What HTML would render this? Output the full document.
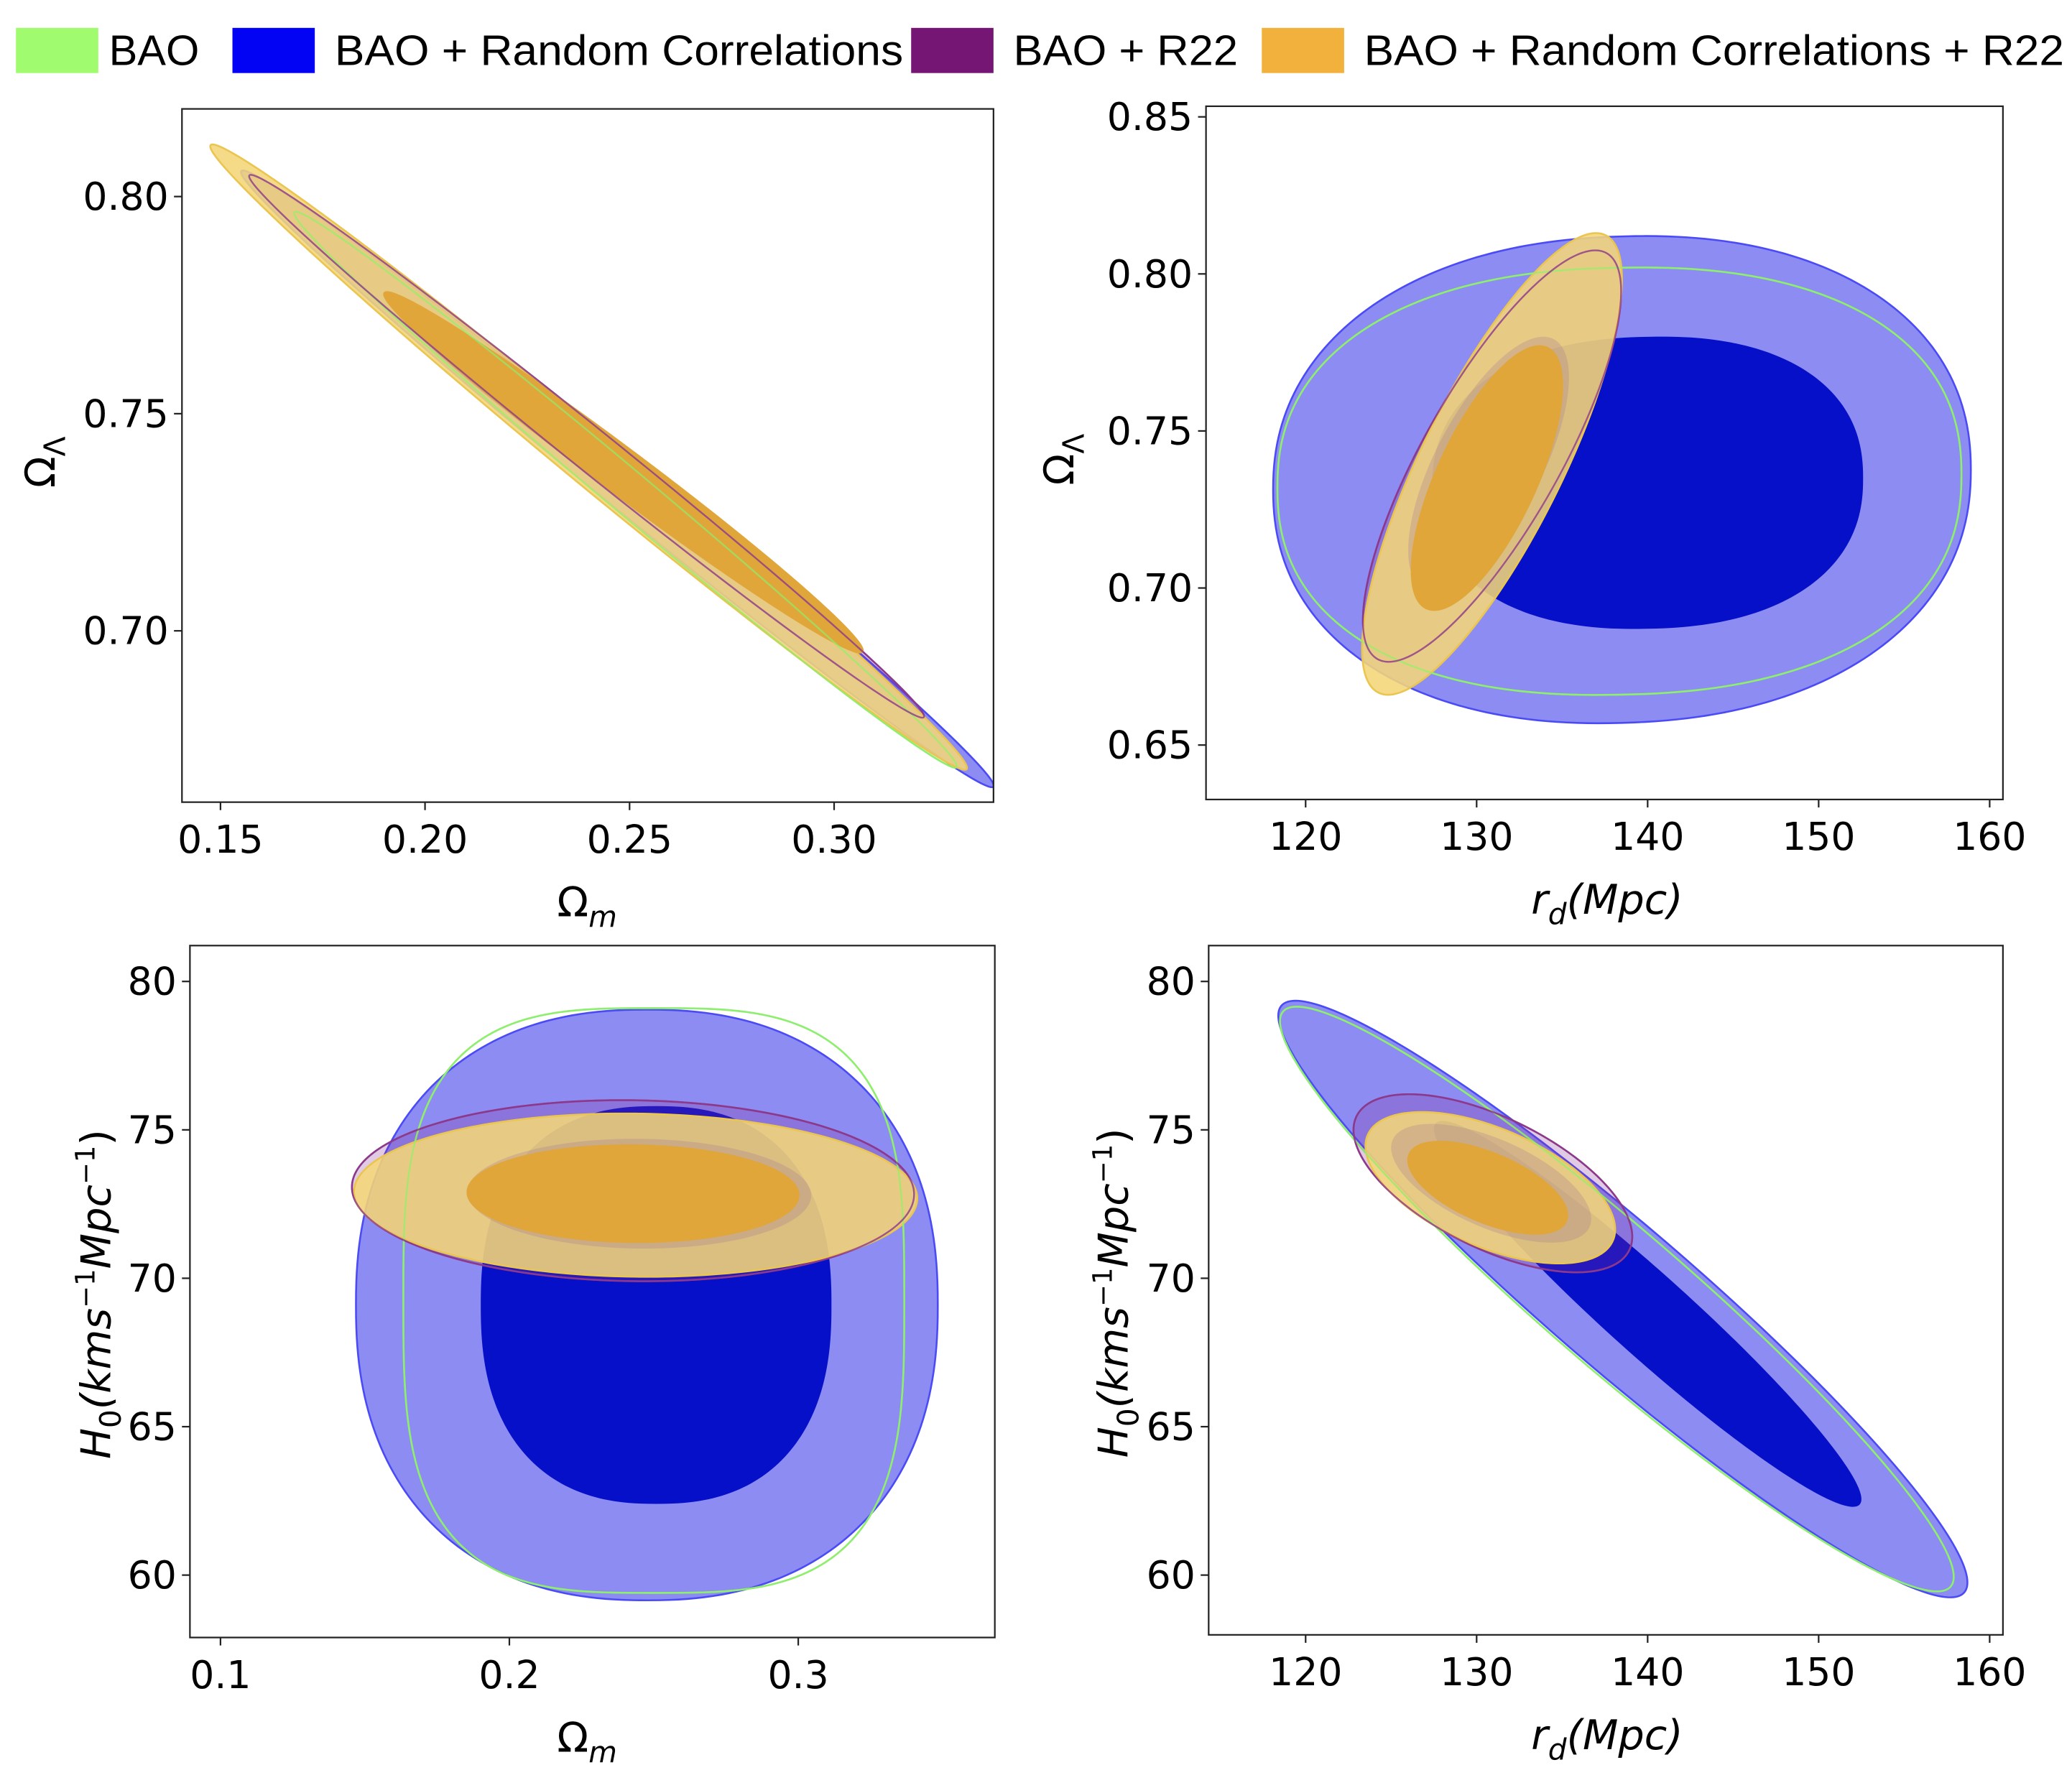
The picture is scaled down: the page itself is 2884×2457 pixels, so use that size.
<!DOCTYPE html>
<html><head><meta charset="utf-8"><style>
html,body{margin:0;padding:0;background:#fff;}
svg{display:block;}
text{font-family:"DejaVu Sans","Liberation Sans",sans-serif;fill:#000;}
.lg{font-family:"Liberation Sans",sans-serif;font-size:32px;}
.tk{font-size:29px;}
.al{font-size:31px;}
</style></head><body>
<svg id="fig" width="2884" height="2457" viewBox="0 0 1560 1329" preserveAspectRatio="none" xmlns="http://www.w3.org/2000/svg">
<g>
<rect x="12" y="21" width="62" height="34" fill="#a0fb6e"/>
<text class="lg" x="82" y="49" textLength="68" lengthAdjust="spacingAndGlyphs">BAO</text>
<rect x="175" y="21" width="62" height="34" fill="#0202f5"/>
<text class="lg" x="252" y="49" textLength="428" lengthAdjust="spacingAndGlyphs">BAO + Random Correlations</text>
<rect x="686" y="21" width="62" height="34" fill="#751674"/>
<text class="lg" x="763" y="49" textLength="169" lengthAdjust="spacingAndGlyphs">BAO + R22</text>
<rect x="950" y="21" width="62" height="34" fill="#f2b13c"/>
<text class="lg" x="1027" y="49" textLength="527" lengthAdjust="spacingAndGlyphs">BAO + Random Correlations + R22</text>
</g>
</svg>
<script>
// layer order: blueOuter, blueInner, greenOuter, purpleOuter, yellowOuter, purpleInner, orangeInner
const layerNames = ['bao-rc-outer','bao-rc-inner','bao-outer','bao-r22-outer','bao-rc-r22-outer','bao-r22-inner','bao-rc-r22-inner'];
// Panel 1: Omega_m vs Omega_Lambda
const p1Cx = [0.247, 0.249, 0.249, 0.2395, 0.240, 0.246, 0.2485];
const p1Cy = [0.735, 0.7365, 0.7325, 0.7425, 0.740, 0.7375, 0.7365];
const p1Hx = [0.092, 0.055, 0.081, 0.0825, 0.0925, 0.052, 0.0585];
const p1Hy = [0.071, 0.039, 0.064, 0.0625, 0.072, 0.036, 0.0415];
const p1Rho = [-0.995, -0.988, -0.995, -0.995, -0.994, -0.988, -0.988];
const p1Q = [2, 2, 2, 2, 2, 2, 2];
const p1XTicks = [0.15, 0.20, 0.25, 0.30];
const p1XTickLabels = ['0.15','0.20','0.25','0.30'];
const p1YTicks = [0.70, 0.75, 0.80];
const p1YTickLabels = ['0.70','0.75','0.80'];
// Panel 2: r_d vs Omega_Lambda
const p2Cx = [138.5, 140.0, 138.35, 130.9, 130.9, 130.7, 130.6];
const p2Cy = [0.7345, 0.7335, 0.734, 0.742, 0.7395, 0.7395, 0.735];
const p2Hx = [20.4, 12.6, 20.0, 7.55, 7.6, 4.7, 4.4];
const p2Hy = [0.0775, 0.0465, 0.068, 0.0655, 0.0735, 0.0405, 0.042];
const p2Rho = [0.04, 0.03, 0.03, 0.8, 0.8, 0.68, 0.7];
const p2Q = [2.2, 2.3, 2.3, 2, 2, 2, 2];
const p2XTicks = [120, 130, 140, 150, 160];
const p2XTickLabels = ['120','130','140','150','160'];
const p2YTicks = [0.65, 0.70, 0.75, 0.80, 0.85];
const p2YTickLabels = ['0.65','0.70','0.75','0.80','0.85'];
// Panel 3: Omega_m vs H0
const p3Cx = [0.2476, 0.2508, 0.250, 0.2428, 0.2437, 0.245, 0.2428];
const p3Cy = [69.1, 69.1, 69.25, 72.95, 72.8, 72.85, 72.85];
const p3Hx = [0.1007, 0.0607, 0.0867, 0.0973, 0.0975, 0.0595, 0.0573];
const p3Hy = [9.95, 6.7, 9.85, 3.05, 2.75, 1.85, 1.63];
const p3Rho = [0.0, 0.0, 0.0, -0.04, -0.04, -0.03, -0.03];
const p3Q = [2.3, 2.4, 3.2, 2, 2, 2, 2];
const p3XTicks = [0.1, 0.2, 0.3];
const p3XTickLabels = ['0.1','0.2','0.3'];
const p3YTicks = [60, 65, 70, 75, 80];
const p3YTickLabels = ['60','65','70','75','80'];
// Panel 4: r_d vs H0
const p4Cx = [138.55, 140.0, 138.2, 130.95, 130.8, 130.85, 130.65];
const p4Cy = [69.3, 68.8, 69.3, 73.2, 73.05, 73.2, 73.05];
const p4Hx = [20.15, 12.5, 19.7, 8.15, 7.3, 5.85, 4.65];
const p4Hy = [10.05, 6.5, 9.85, 3.0, 2.55, 2.0, 1.55];
const p4Rho = [-0.95, -0.96, -0.95, -0.6, -0.55, -0.6, -0.6];
const p4Q = [2, 2, 2, 2, 2, 2, 2];
const p4XTicks = [120, 130, 140, 150, 160];
const p4XTickLabels = ['120','130','140','150','160'];
const p4YTicks = [60, 65, 70, 75, 80];
const p4YTickLabels = ['60','65','70','75','80'];

const fills = ['rgba(10,10,230,0.47)','#0510c8','none','rgba(140,50,150,0.26)','rgba(244,214,120,0.88)','rgba(150,100,150,0.22)','#e0a63a'];
const strokes = ['#4b4bf6','none','#8eee6e','#8c3a8c','#eac550','none','#e0a63a'];
const NS = 'http://www.w3.org/2000/svg';
const svg = document.getElementById('fig');
function mk(tag, attrs, parent){const e=document.createElementNS(NS,tag);for(const k in attrs)e.setAttribute(k,attrs[k]);parent.appendChild(e);return e;}
function sp(v,q){return Math.sign(v)*Math.pow(Math.abs(v),2/q);}

const panels = [
 {id:'p1',box:[137,82,748,604],xd:[0.15,166,0.30,628],yd:[0.80,148,0.70,475],cx:p1Cx,cy:p1Cy,hx:p1Hx,hy:p1Hy,rho:p1Rho,q:p1Q,xt:p1XTicks,xtl:p1XTickLabels,yt:p1YTicks,ytl:p1YTickLabels,xl:'m',xlX:442,yl:'L',ylX:30},
 {id:'p2',box:[908,80,1508,602],xd:[120,983,160,1498],yd:[0.85,88,0.65,561],cx:p2Cx,cy:p2Cy,hx:p2Hx,hy:p2Hy,rho:p2Rho,q:p2Q,xt:p2XTicks,xtl:p2XTickLabels,yt:p2YTicks,ytl:p2YTickLabels,xl:'rd',xlX:1210,yl:'L',ylX:797},
 {id:'p3',box:[143,712,749,1233],xd:[0.1,166,0.3,601],yd:[80,739,60,1186],cx:p3Cx,cy:p3Cy,hx:p3Hx,hy:p3Hy,rho:p3Rho,q:p3Q,xt:p3XTicks,xtl:p3XTickLabels,yt:p3YTicks,ytl:p3YTickLabels,xl:'m',xlX:442,yl:'H',ylX:72},
 {id:'p4',box:[910,712,1508,1231],xd:[120,983,160,1498],yd:[80,739,60,1186],cx:p4Cx,cy:p4Cy,hx:p4Hx,hy:p4Hy,rho:p4Rho,q:p4Q,xt:p4XTicks,xtl:p4XTickLabels,yt:p4YTicks,ytl:p4YTickLabels,xl:'rd',xlX:1210,yl:'H',ylX:838}
];

panels.forEach(p=>{
  const [x0,y0,x1,y1]=p.box;
  const sx=v=>p.xd[1]+(v-p.xd[0])*(p.xd[3]-p.xd[1])/(p.xd[2]-p.xd[0]);
  const sy=v=>p.yd[1]+(v-p.yd[0])*(p.yd[3]-p.yd[1])/(p.yd[2]-p.yd[0]);
  const g=mk('g',{},svg);
  
  
  const cid='clip-'+p.id;
  const cp=mk('clipPath',{id:cid},g); mk('rect',{x:x0,y:y0,width:x1-x0,height:y1-y0},cp);
  const cg=mk('g',{'clip-path':'url(#'+cid+')'},g);
  const paths=[];
  for(let i=0;i<layerNames.length;i++){
    let d='';
    const r=p.rho[i], s=Math.sqrt(1-r*r);
    for(let k=0;k<=240;k++){
      const t=k/240*2*Math.PI;
      const c=sp(Math.cos(t),p.q[i]), sn=sp(Math.sin(t),p.q[i]);
      const X=sx(p.cx[i]+p.hx[i]*c);
      const Y=sy(p.cy[i]+p.hy[i]*(r*c+s*sn));
      d+=(k?'L':'M')+X.toFixed(2)+' '+Y.toFixed(2);
    }
    d+='Z';
    paths.push(d);
    const path=mk('path',{d:d,fill:fills[i],stroke:strokes[i],'stroke-width':1.4},cg);
    
    
  }
  [[2,'rgba(142,238,110,0.7)'],[3,'rgba(140,58,140,0.8)']].forEach(([i,col])=>{
    const o=mk('path',{d:paths[i],fill:'none',stroke:col,'stroke-width':1.3},cg);
    
    
  });
  const fr=mk('rect',{x:x0,y:y0,width:x1-x0,height:y1-y0,fill:'none',stroke:'#222','stroke-width':1.2},g);
  
  
  p.xt.forEach((v,i)=>{
    const X=sx(v);
    mk('line',{x1:X,y1:y1,x2:X,y2:y1+6,stroke:'#222','stroke-width':1.2},g);
    const t=mk('text',{x:X,y:y1+38,'text-anchor':'middle',class:'tk'},g);
    t.textContent=p.xtl[i];
    
    
  });
  p.yt.forEach((v,i)=>{
    const Y=sy(v);
    mk('line',{x1:x0,y1:Y,x2:x0-6,y2:Y,stroke:'#222','stroke-width':1.2},g);
    const t=mk('text',{x:x0-10,y:Y+10,'text-anchor':'end',class:'tk'},g);
    t.textContent=p.ytl[i];
    
    
  });
  const xt=mk('text',{x:p.xlX,y:y1+86,'text-anchor':'middle',class:'al'},g);
  
  
  if(p.xl==='m'){xt.innerHTML='Ω<tspan font-style="italic" font-size="22" dy="8">m</tspan>';}
  else{xt.innerHTML='<tspan font-style="italic">r</tspan><tspan font-style="italic" font-size="22" dy="8">d</tspan><tspan dy="-8" font-style="italic">(Mpc)</tspan>';}
  const cyM=(y0+y1)/2;
  const yt=mk('text',{x:0,y:0,'text-anchor':'middle',class:'al',transform:'translate('+(p.ylX+11)+','+(p.yl==='H'?cyM+2:cyM+5)+') rotate(-90)'},g);
  
  
  if(p.yl==='L'){yt.innerHTML='Ω<tspan font-size="22" dy="8">Λ</tspan>';}
  else{yt.innerHTML='<tspan font-style="italic">H</tspan><tspan font-size="22" dy="8">0</tspan><tspan dy="-8" font-style="italic">(kms</tspan><tspan font-size="20" dy="-12">−1</tspan><tspan dy="12" font-style="italic">Mpc</tspan><tspan font-size="20" dy="-12">−1</tspan><tspan dy="12">)</tspan>';}
});
</script>
</body></html>
